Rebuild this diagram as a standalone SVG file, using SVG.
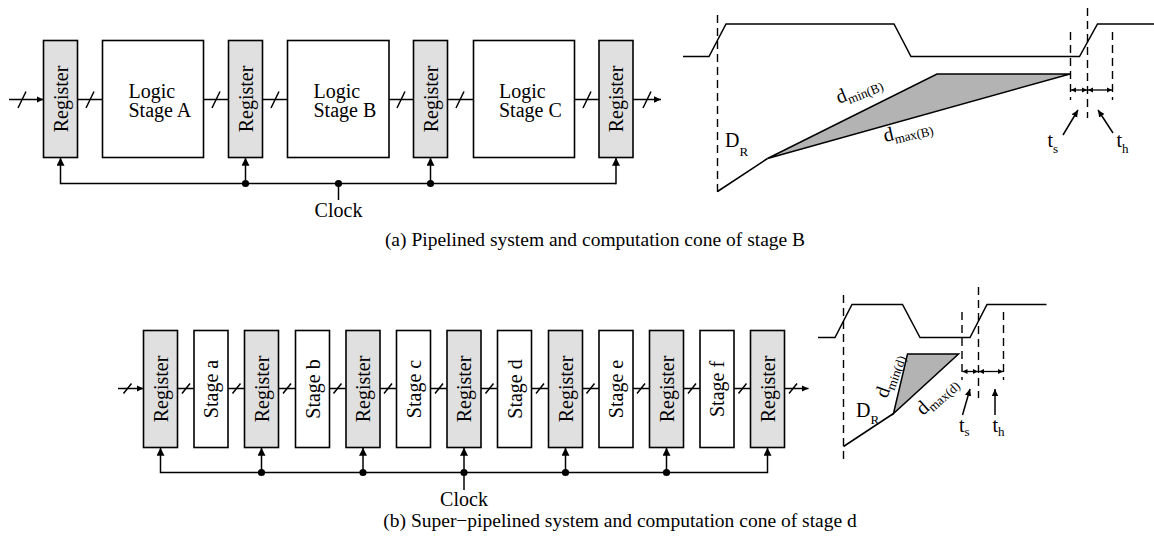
<svg xmlns="http://www.w3.org/2000/svg" width="1154" height="548" viewBox="0 0 1154 548">
  <style>
    .box { fill: #ffffff; stroke: #000000; stroke-width: 1.6; }
    .reg { fill: #e0e0e0; stroke: #000000; stroke-width: 1.6; }
    .wire { fill: none; stroke: #000000; stroke-width: 1.5; }
    .thin { fill: none; stroke: #000000; stroke-width: 1.3; }
    .dash { fill: none; stroke: #000000; stroke-width: 1.4; stroke-dasharray: 8 5; }
    .cone { fill: #b3b3b3; stroke: #000000; stroke-width: 1.5; stroke-linejoin: miter; }
    .dot { fill: #000000; }
    text { font-family: "Liberation Serif", "Times New Roman", serif; fill: #000000; }
    .t20 { font-size: 20px; }
    .t19 { font-size: 20px; }
    .sub { font-size: 13px; }
    .cap { font-size: 19.5px; }
  </style>
  <defs>
    <marker id="arr" markerUnits="userSpaceOnUse" markerWidth="8" markerHeight="8" refX="7" refY="4" orient="auto">
      <path d="M0,0.8 L7,4 L0,7.2 z" fill="#000"/>
    </marker>
    <marker id="clk" markerUnits="userSpaceOnUse" markerWidth="9" markerHeight="9" refX="8" refY="4" orient="auto">
      <path d="M0,0 L8,4 L0,8 z" fill="#000"/>
    </marker>
    <marker id="dim" markerUnits="userSpaceOnUse" markerWidth="6" markerHeight="6" refX="5" refY="3" orient="auto-start-reverse">
      <path d="M0,0.5 L5,3 L0,5.5 z" fill="#000"/>
    </marker>
  </defs>

  <!-- ===================== (a) pipelined system ===================== -->
  <g id="a-connectors">
    <!-- data path -->
    <line class="wire" x1="9" y1="99.5" x2="43.5" y2="99.5" marker-end="url(#arr)"/>
    <line class="wire" x1="77.5" y1="99.5" x2="102.5" y2="99.5"/>
    <line class="wire" x1="203.5" y1="99.5" x2="228.5" y2="99.5"/>
    <line class="wire" x1="262.5" y1="99.5" x2="287.5" y2="99.5"/>
    <line class="wire" x1="389" y1="99.5" x2="413.5" y2="99.5"/>
    <line class="wire" x1="447.5" y1="99.5" x2="473.5" y2="99.5"/>
    <line class="wire" x1="574.5" y1="99.5" x2="599" y2="99.5"/>
    <line class="wire" x1="633" y1="99.5" x2="661" y2="99.5" marker-end="url(#arr)"/>
    <!-- bus slashes -->
    <path class="wire" d="M18 108 L26 91.5 M86 108 L94 91.5 M212 108 L220 91.5 M271 108 L279 91.5 M397 108 L405 91.5 M456 108 L464 91.5 M583 108 L591 91.5 M643 108 L651 91.5"/>
    <!-- clock distribution -->
    <line class="wire" x1="60.5" y1="183.5" x2="616" y2="183.5"/>
    <line class="wire" x1="60.5" y1="184.2" x2="60.5" y2="157.8" marker-end="url(#clk)"/>
    <line class="wire" x1="245.5" y1="183.5" x2="245.5" y2="157.8" marker-end="url(#clk)"/>
    <line class="wire" x1="430.5" y1="183.5" x2="430.5" y2="157.8" marker-end="url(#clk)"/>
    <line class="wire" x1="616" y1="184.2" x2="616" y2="157.8" marker-end="url(#clk)"/>
    <line class="wire" x1="338.5" y1="183.5" x2="338.5" y2="200"/>
    <circle class="dot" cx="245.5" cy="183.5" r="3.6"/>
    <circle class="dot" cx="430.5" cy="183.5" r="3.6"/>
    <circle class="dot" cx="338.5" cy="183.5" r="3.6"/>
  </g>

  <g id="a-reg1"><rect class="reg" x="43.5" y="40.5" width="34" height="117"/><text class="t20" transform="translate(60.5 99) rotate(-90)" text-anchor="middle" dy="7">Register</text></g>
  <g id="a-stageA"><rect class="box" x="102.5" y="40.5" width="101" height="117"/><text class="t20" x="128.5" y="98">Logic</text><text class="t20" x="128.5" y="116.5">Stage A</text></g>
  <g id="a-reg2"><rect class="reg" x="228.5" y="40.5" width="34" height="117"/><text class="t20" transform="translate(245.5 99) rotate(-90)" text-anchor="middle" dy="7">Register</text></g>
  <g id="a-stageB"><rect class="box" x="287.5" y="40.5" width="101.5" height="117"/><text class="t20" x="313.5" y="98">Logic</text><text class="t20" x="313.5" y="116.5">Stage B</text></g>
  <g id="a-reg3"><rect class="reg" x="413.5" y="40.5" width="34" height="117"/><text class="t20" transform="translate(430.5 99) rotate(-90)" text-anchor="middle" dy="7">Register</text></g>
  <g id="a-stageC"><rect class="box" x="473.5" y="40.5" width="101" height="117"/><text class="t20" x="499" y="98">Logic</text><text class="t20" x="499" y="116.5">Stage C</text></g>
  <g id="a-reg4"><rect class="reg" x="599" y="40.5" width="34" height="117"/><text class="t20" transform="translate(616 99) rotate(-90)" text-anchor="middle" dy="7">Register</text></g>
  <g id="a-clock"><text class="t20" x="338.5" y="216.5" text-anchor="middle">Clock</text></g>

  <!-- timing of stage B -->
  <g id="a-timing">
    <path class="wire" d="M683 56.5 H709 L726 24 H894 L911 56.5 H1079.5 L1097.5 24 H1154"/>
    <line class="dash" x1="717.5" y1="15" x2="717.5" y2="192"/>
    <line class="dash" x1="1070.5" y1="32" x2="1070.5" y2="100"/>
    <line class="dash" x1="1087.5" y1="8" x2="1087.5" y2="118"/>
    <line class="dash" x1="1112.5" y1="32" x2="1112.5" y2="100"/>
    <line class="wire" x1="717.5" y1="191.5" x2="767.5" y2="158.5"/>
    <polygon class="cone" points="767.5,158.5 937,74 1070,74"/>
    <line class="thin" x1="1071" y1="90" x2="1087" y2="90" marker-start="url(#dim)" marker-end="url(#dim)"/>
    <line class="thin" x1="1088" y1="90" x2="1112" y2="90" marker-start="url(#dim)" marker-end="url(#dim)"/>
    <line class="wire" x1="1063" y1="135" x2="1078" y2="110" marker-end="url(#arr)"/>
    <line class="wire" x1="1113" y1="133" x2="1098" y2="110" marker-end="url(#arr)"/>
    <text class="t19" x="725" y="146.5">D<tspan class="sub" dy="9">R</tspan></text>
    <text class="t19" transform="translate(839 104) rotate(-22)">d<tspan class="sub" dy="4">min(B)</tspan></text>
    <text class="t19" transform="translate(885 142) rotate(-13)">d<tspan class="sub" dy="4">max(B)</tspan></text>
    <text class="t19" x="1047.5" y="146.5">t<tspan class="sub" dy="6">s</tspan></text>
    <text class="t19" x="1116.5" y="146.5">t<tspan class="sub" dy="6">h</tspan></text>
  </g>

  <text id="caption-a" class="cap" x="595" y="246" text-anchor="middle">(a) Pipelined system and computation cone of stage B</text>

  <!-- ===================== (b) super-pipelined system ===================== -->
  <g id="b-connectors">
    <line class="wire" x1="118" y1="388.5" x2="143.5" y2="388.5" marker-end="url(#arr)"/>
    <path class="wire" d="M177.5 388.5 H194 M228 388.5 H244.5 M278.5 388.5 H295.5 M329.5 388.5 H346 M380 388.5 H396.5 M430.5 388.5 H447 M481 388.5 H497.5 M531.5 388.5 H548.5 M582.5 388.5 H599 M633 388.5 H649.5 M683.5 388.5 H700 M734 388.5 H750.5"/>
    <line class="wire" x1="784.5" y1="388.5" x2="808.5" y2="388.5" marker-end="url(#arr)"/>
    <path class="wire" d="M123.5 393.5 L131.5 383.5 M182 393.5 L190 383.5 M232.5 393.5 L240.5 383.5 M283 393.5 L291 383.5 M333.5 393.5 L341.5 383.5 M384 393.5 L392 383.5 M435 393.5 L443 383.5 M485.5 393.5 L493.5 383.5 M536 393.5 L544 383.5 M586.5 393.5 L594.5 383.5 M637 393.5 L645 383.5 M688 393.5 L696 383.5 M738.5 393.5 L746.5 383.5 M789 393.5 L797 383.5"/>
    <line class="wire" x1="160.5" y1="472.5" x2="767.5" y2="472.5"/>
    <line class="wire" x1="160.5" y1="473.2" x2="160.5" y2="447.8" marker-end="url(#clk)"/>
    <line class="wire" x1="261.5" y1="472.5" x2="261.5" y2="447.8" marker-end="url(#clk)"/>
    <line class="wire" x1="363" y1="472.5" x2="363" y2="447.8" marker-end="url(#clk)"/>
    <line class="wire" x1="464" y1="472.5" x2="464" y2="447.8" marker-end="url(#clk)"/>
    <line class="wire" x1="565.5" y1="472.5" x2="565.5" y2="447.8" marker-end="url(#clk)"/>
    <line class="wire" x1="666.5" y1="472.5" x2="666.5" y2="447.8" marker-end="url(#clk)"/>
    <line class="wire" x1="767.5" y1="473.2" x2="767.5" y2="447.8" marker-end="url(#clk)"/>
    <line class="wire" x1="464" y1="472.5" x2="464" y2="490"/>
    <circle class="dot" cx="261.5" cy="472.5" r="3.6"/>
    <circle class="dot" cx="363" cy="472.5" r="3.6"/>
    <circle class="dot" cx="464" cy="472.5" r="3.6"/>
    <circle class="dot" cx="565.5" cy="472.5" r="3.6"/>
    <circle class="dot" cx="666.5" cy="472.5" r="3.6"/>
  </g>

  <g id="b-reg1"><rect class="reg" x="143.5" y="330.5" width="34" height="117"/><text class="t20" transform="translate(160.5 389) rotate(-90)" text-anchor="middle" dy="7">Register</text></g>
  <g id="b-stage-a"><rect class="box" x="194" y="330.5" width="34" height="117"/><text class="t20" transform="translate(211 389) rotate(-90)" text-anchor="middle" dy="7">Stage a</text></g>
  <g id="b-reg2"><rect class="reg" x="244.5" y="330.5" width="34" height="117"/><text class="t20" transform="translate(261.5 389) rotate(-90)" text-anchor="middle" dy="7">Register</text></g>
  <g id="b-stage-b"><rect class="box" x="295.5" y="330.5" width="34" height="117"/><text class="t20" transform="translate(312.5 389) rotate(-90)" text-anchor="middle" dy="7">Stage b</text></g>
  <g id="b-reg3"><rect class="reg" x="346" y="330.5" width="34" height="117"/><text class="t20" transform="translate(363 389) rotate(-90)" text-anchor="middle" dy="7">Register</text></g>
  <g id="b-stage-c"><rect class="box" x="396.5" y="330.5" width="34" height="117"/><text class="t20" transform="translate(413.5 389) rotate(-90)" text-anchor="middle" dy="7">Stage c</text></g>
  <g id="b-reg4"><rect class="reg" x="447" y="330.5" width="34" height="117"/><text class="t20" transform="translate(464 389) rotate(-90)" text-anchor="middle" dy="7">Register</text></g>
  <g id="b-stage-d"><rect class="box" x="497.5" y="330.5" width="34" height="117"/><text class="t20" transform="translate(514.5 389) rotate(-90)" text-anchor="middle" dy="7">Stage d</text></g>
  <g id="b-reg5"><rect class="reg" x="548.5" y="330.5" width="34" height="117"/><text class="t20" transform="translate(565.5 389) rotate(-90)" text-anchor="middle" dy="7">Register</text></g>
  <g id="b-stage-e"><rect class="box" x="599" y="330.5" width="34" height="117"/><text class="t20" transform="translate(616 389) rotate(-90)" text-anchor="middle" dy="7">Stage e</text></g>
  <g id="b-reg6"><rect class="reg" x="649.5" y="330.5" width="34" height="117"/><text class="t20" transform="translate(666.5 389) rotate(-90)" text-anchor="middle" dy="7">Register</text></g>
  <g id="b-stage-f"><rect class="box" x="700" y="330.5" width="34" height="117"/><text class="t20" transform="translate(717 389) rotate(-90)" text-anchor="middle" dy="7">Stage f</text></g>
  <g id="b-reg7"><rect class="reg" x="750.5" y="330.5" width="34" height="117"/><text class="t20" transform="translate(767.5 389) rotate(-90)" text-anchor="middle" dy="7">Register</text></g>
  <g id="b-clock"><text class="t20" x="464" y="506" text-anchor="middle">Clock</text></g>

  <!-- timing of stage d -->
  <g id="b-timing">
    <path class="wire" d="M818 337.5 H835 L852 304.5 H902.5 L920 337.5 H970 L987 304.5 H1046.5"/>
    <line class="dash" x1="843.5" y1="295" x2="843.5" y2="464"/>
    <line class="dash" x1="962" y1="312" x2="962" y2="380"/>
    <line class="dash" x1="978.5" y1="287" x2="978.5" y2="398"/>
    <line class="dash" x1="1003.5" y1="312" x2="1003.5" y2="380"/>
    <line class="wire" x1="843.5" y1="446.5" x2="893.5" y2="413.5"/>
    <polygon class="cone" points="893.5,413.5 907.5,354 958.5,354"/>
    <line class="thin" x1="962.5" y1="371.5" x2="978" y2="371.5" marker-start="url(#dim)" marker-end="url(#dim)"/>
    <line class="thin" x1="979" y1="371.5" x2="1003" y2="371.5" marker-start="url(#dim)" marker-end="url(#dim)"/>
    <line class="wire" x1="962.5" y1="415" x2="970" y2="389" marker-end="url(#arr)"/>
    <line class="wire" x1="995" y1="415" x2="995" y2="389" marker-end="url(#arr)"/>
    <text class="t19" x="856" y="417">D<tspan class="sub" dy="7">R</tspan></text>
    <text class="t19" transform="translate(887 399) rotate(-70)">d<tspan class="sub" dy="4">min(d)</tspan></text>
    <text class="t19" transform="translate(923 416) rotate(-42)">d<tspan class="sub" dy="4">max(d)</tspan></text>
    <text class="t19" x="959" y="431.5">t<tspan class="sub" dy="4">s</tspan></text>
    <text class="t19" x="992.5" y="431.5">t<tspan class="sub" dy="4">h</tspan></text>
  </g>

  <text id="caption-b" class="cap" x="620" y="527" text-anchor="middle">(b) Super−pipelined system and computation cone of stage d</text>
</svg>
